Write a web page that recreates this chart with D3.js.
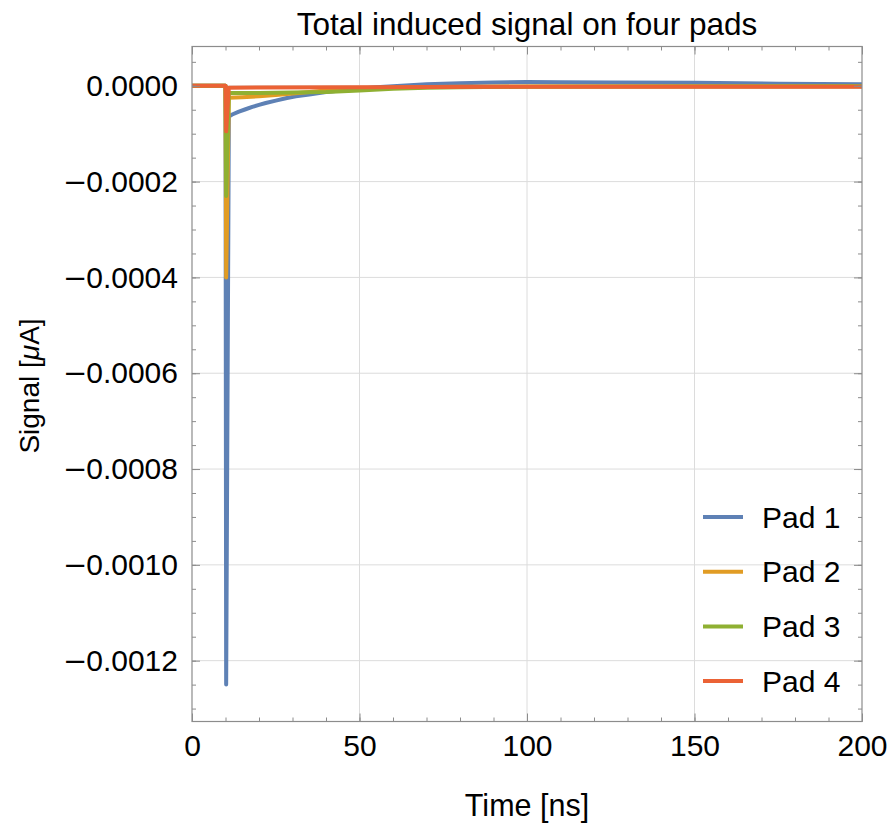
<!DOCTYPE html>
<html>
<head>
<meta charset="utf-8">
<script src="https://cdn.jsdelivr.net/npm/d3@7"></script>
<style>
  html, body { margin: 0; padding: 0; background: #fff; }
  svg { display: block; font-family: "Liberation Sans", Arial, sans-serif; }
</style>
</head>
<body>
<svg id="chart" width="892" height="826"></svg>
<script>
// Induced current on the four readout pads (μA) versus time (ns)
const seriesNames = ["Pad 1", "Pad 2", "Pad 3", "Pad 4"];
const seriesColors = ["#5e81b5", "#e19c24", "#8fb032", "#eb6235"];

const pad1Time = [0, 10, 10.2, 11, 12, 14, 16, 18, 20, 22, 25, 28, 31, 35, 40, 45, 50, 55, 60, 70, 80, 90, 100, 110, 125, 150, 175, 200];
const pad1Signal = [0, 0, -0.00125, -0.000064, -0.000060, -0.000054, -0.000049, -0.000044, -0.000040, -0.000036, -0.000031, -0.000026, -0.000022, -0.000018, -0.000013, -0.0000095, -0.000006, -0.000003, -0.000001, 0.000003, 0.0000055, 0.000007, 0.000008, 0.0000075, 0.000007, 0.0000065, 0.0000045, 0.000003];

const pad2Time = [0, 10, 10.2, 11, 15, 20, 25, 30, 35, 40, 45, 50, 60, 70, 80, 100, 150, 200];
const pad2Signal = [0, 0, -0.0004, -0.000025, -0.000024, -0.000022, -0.000019, -0.000016, -0.000013, -0.000010, -0.000008, -0.000006, -0.000004, -0.0000025, -0.000002, -0.0000015, -0.000001, -0.000001];

const pad3Time = [0, 10, 10.2, 11, 20, 30, 40, 50, 60, 70, 80, 100, 150, 200];
const pad3Signal = [0, 0, -0.00023, -0.000015, -0.000015, -0.000014, -0.000013, -0.000010, -0.000006, -0.000004, -0.000003, -0.000002, -0.0000015, -0.000001];

const pad4Time = [0, 10, 10.2, 11, 50, 100, 200];
const pad4Signal = [0, 0, -0.000095, -0.000004, -0.000003, -0.000002, -0.000002];

const xTicks = [0, 50, 100, 150, 200];
const yTicks = [0, -0.0002, -0.0004, -0.0006, -0.0008, -0.0010, -0.0012];

const titleText = "Total induced signal on four pads";
const xLabel = "Time [ns]";

const series = [
  { name: seriesNames[0], color: seriesColors[0], t: pad1Time, v: pad1Signal },
  { name: seriesNames[1], color: seriesColors[1], t: pad2Time, v: pad2Signal },
  { name: seriesNames[2], color: seriesColors[2], t: pad3Time, v: pad3Signal },
  { name: seriesNames[3], color: seriesColors[3], t: pad4Time, v: pad4Signal }
];

const svg = d3.select("#chart");
const plotLeft = 192, plotRight = 862, plotTop = 46.5, plotBottom = 721.5;

const x = d3.scaleLinear().domain([0, 200]).range([plotLeft, plotRight]);
const y = d3.scaleLinear().domain([-0.001327, 0.000082]).range([plotBottom, plotTop]);

const frameColor = "#8c8c8c";
const gridColor = "#dcdcdc";
const lineWidth = 4;

// grid
const grid = svg.append("g");
grid.selectAll("line.gx").data(xTicks.filter(d => d > 0 && d < 200)).join("line")
  .attr("x1", d => x(d)).attr("x2", d => x(d)).attr("y1", plotTop).attr("y2", plotBottom)
  .attr("stroke", gridColor).attr("stroke-width", 1);
grid.selectAll("line.gy").data(yTicks).join("line")
  .attr("x1", plotLeft).attr("x2", plotRight).attr("y1", d => y(d)).attr("y2", d => y(d))
  .attr("stroke", gridColor).attr("stroke-width", 1);

// curves
const line = d3.line().x(d => x(d[0])).y(d => y(d[1])).curve(d3.curveLinear);
const plot = svg.append("g");
series.forEach(s => {
  plot.append("path")
    .datum(s.t.map((t, i) => [t, s.v[i]]))
    .attr("d", line)
    .attr("fill", "none")
    .attr("stroke", s.color)
    .attr("stroke-width", lineWidth)
    .attr("stroke-linejoin", "round")
    .attr("stroke-linecap", "butt");
});

// frame axes with inward ticks
const xMinor = d3.range(0, 201, 10);
const yMinor = d3.range(-0.0013, 0.0000801, 0.00005).map(v => +v.toFixed(6));

function styleAxis(g) {
  g.select(".domain").remove();
  g.selectAll(".tick line").attr("stroke", frameColor).attr("stroke-width", 1);
  g.selectAll(".tick text").attr("fill", "#000").attr("font-size", 30);
}

svg.append("g").attr("transform", `translate(0,${plotBottom})`)
  .call(d3.axisBottom(x).tickValues(xMinor).tickSize(-4).tickFormat("")).call(styleAxis);
svg.append("g").attr("transform", `translate(0,${plotBottom})`)
  .call(d3.axisBottom(x).tickValues(xTicks).tickSize(-8).tickPadding(13).tickFormat(d3.format("d"))).call(styleAxis);
svg.append("g").attr("transform", `translate(0,${plotTop})`)
  .call(d3.axisTop(x).tickValues(xMinor).tickSize(-4).tickFormat("")).call(styleAxis);
svg.append("g").attr("transform", `translate(0,${plotTop})`)
  .call(d3.axisTop(x).tickValues(xTicks).tickSize(-8).tickFormat("")).call(styleAxis);

svg.append("g").attr("transform", `translate(${plotLeft},0)`)
  .call(d3.axisLeft(y).tickValues(yMinor).tickSize(-4).tickFormat("")).call(styleAxis);
const yAxisG = svg.append("g").attr("transform", `translate(${plotLeft},0)`)
  .call(d3.axisLeft(y).tickValues(yTicks).tickSize(-8).tickPadding(14).tickFormat(d3.format(".4f"))).call(styleAxis);
// long minus sign, set in a face whose minus glyph is wider
yAxisG.selectAll(".tick text").each(function () {
  const t = d3.select(this);
  const s = t.text();
  if (s.startsWith("−")) {
    t.text(null);
    t.append("tspan").attr("font-family", "DejaVu Sans").attr("font-size", 29).text("−");
    t.append("tspan").attr("dx", -1).text(s.slice(1));
  }
});
svg.append("g").attr("transform", `translate(${plotRight},0)`)
  .call(d3.axisRight(y).tickValues(yMinor).tickSize(-4).tickFormat("")).call(styleAxis);
svg.append("g").attr("transform", `translate(${plotRight},0)`)
  .call(d3.axisRight(y).tickValues(yTicks).tickSize(-8).tickFormat("")).call(styleAxis);

svg.append("rect")
  .attr("x", plotLeft).attr("y", plotTop).attr("width", plotRight - plotLeft).attr("height", plotBottom - plotTop)
  .attr("fill", "none").attr("stroke", frameColor).attr("stroke-width", 1.2);

// titles
svg.append("text").attr("x", (plotLeft + plotRight) / 2).attr("y", 35)
  .attr("text-anchor", "middle").attr("font-size", 31.5).attr("fill", "#000").text(titleText);

svg.append("text").attr("x", (plotLeft + plotRight) / 2).attr("y", 816)
  .attr("text-anchor", "middle").attr("font-size", 30.5).attr("fill", "#000").text(xLabel);

const yl = svg.append("text").attr("transform", `translate(39,${(plotTop + plotBottom) / 2 + 2}) rotate(-90)`)
  .attr("text-anchor", "middle").attr("font-size", 28).attr("fill", "#000");
yl.append("tspan").text("Signal [");
yl.append("tspan").attr("font-style", "italic").text("μ");
yl.append("tspan").text("A]");

// legend
const legend = svg.append("g").attr("transform", "translate(703,517)");
series.forEach((s, i) => {
  const g = legend.append("g").attr("transform", `translate(0,${i * 54.7})`);
  g.append("line").attr("x1", 0).attr("x2", 40).attr("y1", 0).attr("y2", 0)
    .attr("stroke", s.color).attr("stroke-width", lineWidth);
  g.append("text").attr("x", 59).attr("y", 0).attr("dy", "0.35em")
    .attr("font-size", 30).attr("fill", "#000").text(s.name);
});
</script>
</body>
</html>
